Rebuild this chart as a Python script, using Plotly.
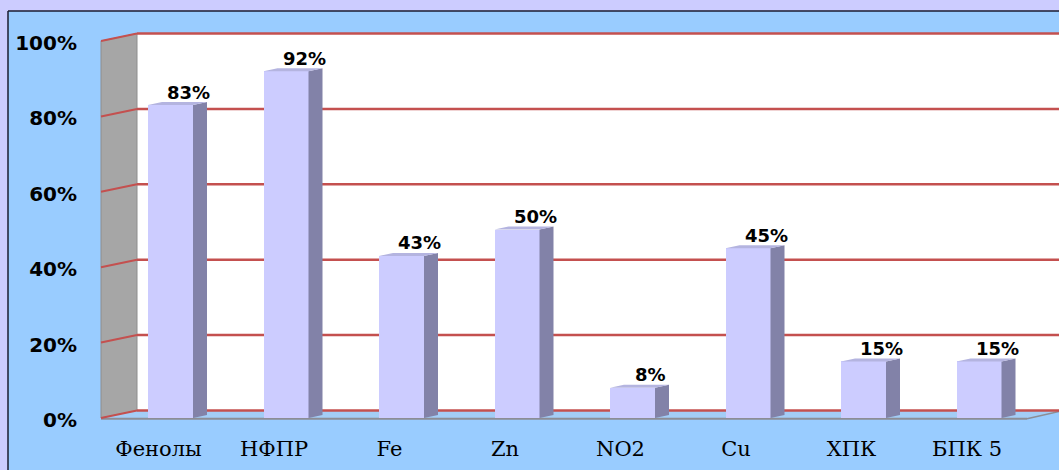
import plotly.graph_objects as go

# ---- data ----
categories = ["Фенолы", "НФПР", "Fe", "Zn", "NO2", "Cu", "ХПК", "БПК 5"]
values = [83, 92, 43, 50, 8, 45, 15, 15]
y_ticks = [0, 20, 40, 60, 80, 100]
y_tick_labels = ["0%", "20%", "40%", "60%", "80%", "100%"]

# ---- geometry (pixels of the 1059x470 canvas) ----
W, H = 1059, 470
L, R, T, B = 100, 0, 20, 50
PW, PH = W - L - R, H - T - B

Y0_PX = 418.0       # front zero line
PX_PER_UNIT = 3.77  # pixels per percent
X0_PX = 170.5       # centre of first bar front face
PX_PER_CAT = 115.5


def xv(p):
    return (p - X0_PX) / PX_PER_CAT


def yv(p):
    return (Y0_PX - p) / PX_PER_UNIT


def pxx(p):
    return (p - L) / PW


def pxy(p):
    return (H - B - p) / PH


x_range = [xv(L), xv(W - R)]
y_range = [yv(H - B), yv(T)]

bar_w = 45 / PX_PER_CAT
bdx, bdy = 14 / PX_PER_CAT, 3 / PX_PER_UNIT
wdx, wdy = 36 / PX_PER_CAT, 7.5 / PX_PER_UNIT

x_front_left = xv(101)
x_back_left = x_front_left + wdx
x_right = xv(W + 10)

grid_color = "#c4504f"
shapes = []

# outer frame (lavender band + dark border)
shapes.append(dict(type="rect", xref="paper", yref="paper", x0=pxx(0), x1=pxx(W), y0=pxy(0), y1=pxy(11),
                   fillcolor="#ccccff", line=dict(width=0), layer="below"))
shapes.append(dict(type="rect", xref="paper", yref="paper", x0=pxx(0), x1=pxx(8), y0=pxy(0), y1=pxy(H),
                   fillcolor="#ccccff", line=dict(width=0), layer="below"))
shapes.append(dict(type="line", xref="paper", yref="paper", x0=pxx(8), x1=pxx(W), y0=pxy(11), y1=pxy(11),
                   line=dict(color="#1c1c30", width=1.5), layer="below"))
shapes.append(dict(type="line", xref="paper", yref="paper", x0=pxx(8), x1=pxx(8), y0=pxy(11), y1=pxy(H),
                   line=dict(color="#1c1c30", width=1.5), layer="below"))

# back wall
shapes.append(dict(type="rect", xref="x", yref="y", x0=x_back_left, x1=x_right, y0=wdy, y1=100 + wdy,
                   fillcolor="white", line=dict(width=0), layer="below"))
# left wall
shapes.append(dict(type="path", xref="x", yref="y",
                   path=f"M {x_front_left},0 L {x_front_left},100 L {x_back_left},{100 + wdy} L {x_back_left},{wdy} Z",
                   fillcolor="#a6a6a6", line=dict(color="#8e8e8e", width=1), layer="below"))
# floor
x_floor_fr = xv(1027)
shapes.append(dict(type="path", xref="x", yref="y",
                   path=f"M {x_front_left},0 L {x_back_left},{wdy} L {x_floor_fr + wdx},{wdy} L {x_floor_fr},0 Z",
                   fillcolor="#a3cdf6", line=dict(width=0), layer="below"))
shapes.append(dict(type="line", xref="x", yref="y", x0=x_front_left, x1=x_floor_fr, y0=-0.2, y1=-0.2,
                   line=dict(color="#8d8d95", width=2), layer="below"))
shapes.append(dict(type="line", xref="x", yref="y", x0=x_floor_fr, x1=x_floor_fr + wdx, y0=-0.2, y1=wdy,
                   line=dict(color="#8d8d95", width=1.5), layer="below"))

# gridlines on back and left walls
for v in y_ticks:
    shapes.append(dict(type="line", xref="x", yref="y", x0=x_back_left, x1=x_right, y0=v + wdy, y1=v + wdy,
                       line=dict(color=grid_color, width=2.5), layer="below"))
    shapes.append(dict(type="line", xref="x", yref="y", x0=x_front_left, x1=x_back_left, y0=v, y1=v + wdy,
                       line=dict(color=grid_color, width=2), layer="below"))

fig = go.Figure()

xs = list(range(len(categories)))

# front faces
fig.add_trace(go.Bar(x=xs, y=values, width=bar_w, marker=dict(color="#ccccff", line=dict(width=0)),
                     hoverinfo="skip", showlegend=False))

# side and top faces
for i, v in zip(xs, values):
    x1 = i + bar_w / 2
    x0 = i - bar_w / 2
    fig.add_trace(go.Scatter(x=[x1, x1, x1 + bdx, x1 + bdx, x1], y=[0, v, v + bdy, bdy, 0],
                             fill="toself", fillcolor="#8282a8", mode="lines", line=dict(width=0),
                             hoverinfo="skip", showlegend=False))
    fig.add_trace(go.Scatter(x=[x0, x0 + bdx, x1 + bdx, x1, x0], y=[v, v + bdy, v + bdy, v, v],
                             fill="toself", fillcolor="#b4b4e0", mode="lines", line=dict(width=0),
                             hoverinfo="skip", showlegend=False))

annotations = []
for i, v in zip(xs, values):
    annotations.append(dict(x=i, y=v, xref="x", yref="y", text=f"{v}%", showarrow=False,
                            xshift=18, yshift=13, yanchor="middle",
                            font=dict(family="DejaVu Sans", size=18, color="black", weight="bold")))

fig.update_layout(
    width=W, height=H,
    margin=dict(l=L, r=R, t=T, b=B, pad=0),
    paper_bgcolor="#99ccff",
    plot_bgcolor="rgba(0,0,0,0)",
    shapes=shapes,
    annotations=annotations,
    showlegend=False,
    bargap=0,
    xaxis=dict(range=x_range, tickmode="array", tickvals=xs, ticktext=categories,
               showgrid=False, zeroline=False, showline=False, ticks="",
               ticklabelshift=-12, ticklabelstandoff=14,
               tickfont=dict(family="DejaVu Serif", size=21, color="black")),
    yaxis=dict(range=y_range, tickmode="array", tickvals=y_ticks, ticktext=y_tick_labels,
               showgrid=False, zeroline=False, showline=False, ticks="",
               ticklabelshift=2, ticklabelstandoff=22,
               tickfont=dict(family="DejaVu Sans", size=20, color="black", weight="bold")),
)

fig.write_html("out.html")
